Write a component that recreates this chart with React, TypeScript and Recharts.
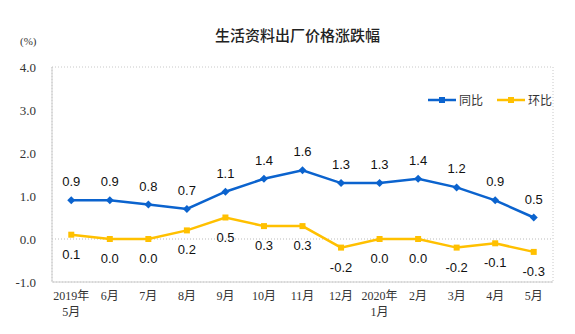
import { LineChart, Line, XAxis, YAxis, ReferenceLine, ReferenceArea, LabelList } from 'recharts';

const months = ['2019年\n5月', '6月', '7月', '8月', '9月', '10月', '11月', '12月', '2020年\n1月', '2月', '3月', '4月', '5月'];
const yoy = [0.9, 0.9, 0.8, 0.7, 1.1, 1.4, 1.6, 1.3, 1.3, 1.4, 1.2, 0.9, 0.5];
const mom = [0.1, 0.0, 0.0, 0.2, 0.5, 0.3, 0.3, -0.2, 0.0, 0.0, -0.2, -0.1, -0.3];
const yTicks = [-1, 0, 1, 2, 3, 4];

const data = months.map((m, i) => ({ name: m, yoy: yoy[i], mom: mom[i] }));

const BLUE = '#0B63CE';
const YELLOW = '#FFC000';
const serif = '"Times New Roman", "Liberation Serif", "Noto Sans CJK SC", serif';
const sans = 'Arial, "Liberation Sans", sans-serif';

const Diamond = ({ cx, cy }: any) => (
  <path d={`M${cx},${cy - 4}L${cx + 4},${cy}L${cx},${cy + 4}L${cx - 4},${cy}Z`} fill={BLUE} />
);
const Square = ({ cx, cy }: any) => <rect x={cx - 3} y={cy - 3} width={6} height={6} fill={YELLOW} />;

const XTick = ({ x, y, payload }: any) => {
  const lines = String(payload.value).split('\n');
  return (
    <text x={x} y={y} textAnchor="middle" fontSize={12} fill="#333" fontFamily={serif}>
      {lines.map((l, i) => (
        <tspan key={i} x={x} dy={i === 0 ? 10 : 16}>{l}</tspan>
      ))}
    </text>
  );
};

const makeLabel = (dy: number) => (props: any) => {
  const { x, y, value } = props;
  return (
    <text x={x} y={y + dy} textAnchor="middle" fontSize={13} fill="#111" fontFamily={sans}>
      {Number(value).toFixed(1)}
    </text>
  );
};

const LegendBox = () => (
  <div style={{ position: 'absolute', left: 428, top: 91, display: 'flex', gap: 14, fontSize: 12, fontFamily: '"Noto Sans CJK SC", sans-serif', color: '#333' }}>
    {[{ c: BLUE, t: '同比' }, { c: YELLOW, t: '环比' }].map((it) => (
      <div key={it.t} style={{ display: 'flex', alignItems: 'center', gap: 3 }}>
        <svg width={28} height={8}>
          <line x1={0} y1={4} x2={28} y2={4} stroke={it.c} strokeWidth={2.5} />
          <rect x={11} y={1} width={6} height={6} fill={it.c} />
        </svg>
        <span>{it.t}</span>
      </div>
    ))}
  </div>
);

export default function App() {
  return (
    <div style={{ position: 'absolute', left: 0, top: 0, width: 575, height: 334, background: '#fff' }}>
      <div style={{ position: 'absolute', left: 0, width: 575, top: 24, textAlign: 'center', fontSize: 15, fontWeight: 500, fontFamily: '"Noto Sans CJK SC", sans-serif', color: '#222', paddingLeft: 20, boxSizing: 'border-box' }}>
        生活资料出厂价格涨跌幅
      </div>
      <div style={{ position: 'absolute', left: 20, top: 35, fontSize: 11, fontFamily: serif, color: '#333' }}>(%)</div>
      <LineChart width={575} height={334} data={data} margin={{ top: 67, right: 22, bottom: 0, left: 0 }}>
        <ReferenceArea y1={-1} y2={4} fill="none" stroke="#c8c8c8" strokeDasharray="1 2" />
        <ReferenceLine y={0} stroke="#bbb" strokeDasharray="1 2" />
        <XAxis dataKey="name" scale="band" tick={<XTick />} tickLine={false} axisLine={{ stroke: '#ccc' }} interval={0} height={52} />
        <YAxis
          domain={[-1, 4]}
          ticks={yTicks}
          width={52}
          tickFormatter={(v) => v.toFixed(1)}
          tick={{ fontSize: 13, fill: '#333', fontFamily: serif }}
          tickLine={false}
          axisLine={{ stroke: '#ccc' }}
          tickMargin={10}
        />
        <Line dataKey="yoy" stroke={BLUE} strokeWidth={2.5} dot={<Diamond />} isAnimationActive={false}>
          <LabelList dataKey="yoy" content={makeLabel(-14)} />
        </Line>
        <Line dataKey="mom" stroke={YELLOW} strokeWidth={2.5} dot={<Square />} isAnimationActive={false}>
          <LabelList dataKey="mom" content={makeLabel(24)} />
        </Line>
      </LineChart>
      <LegendBox />
    </div>
  );
}
